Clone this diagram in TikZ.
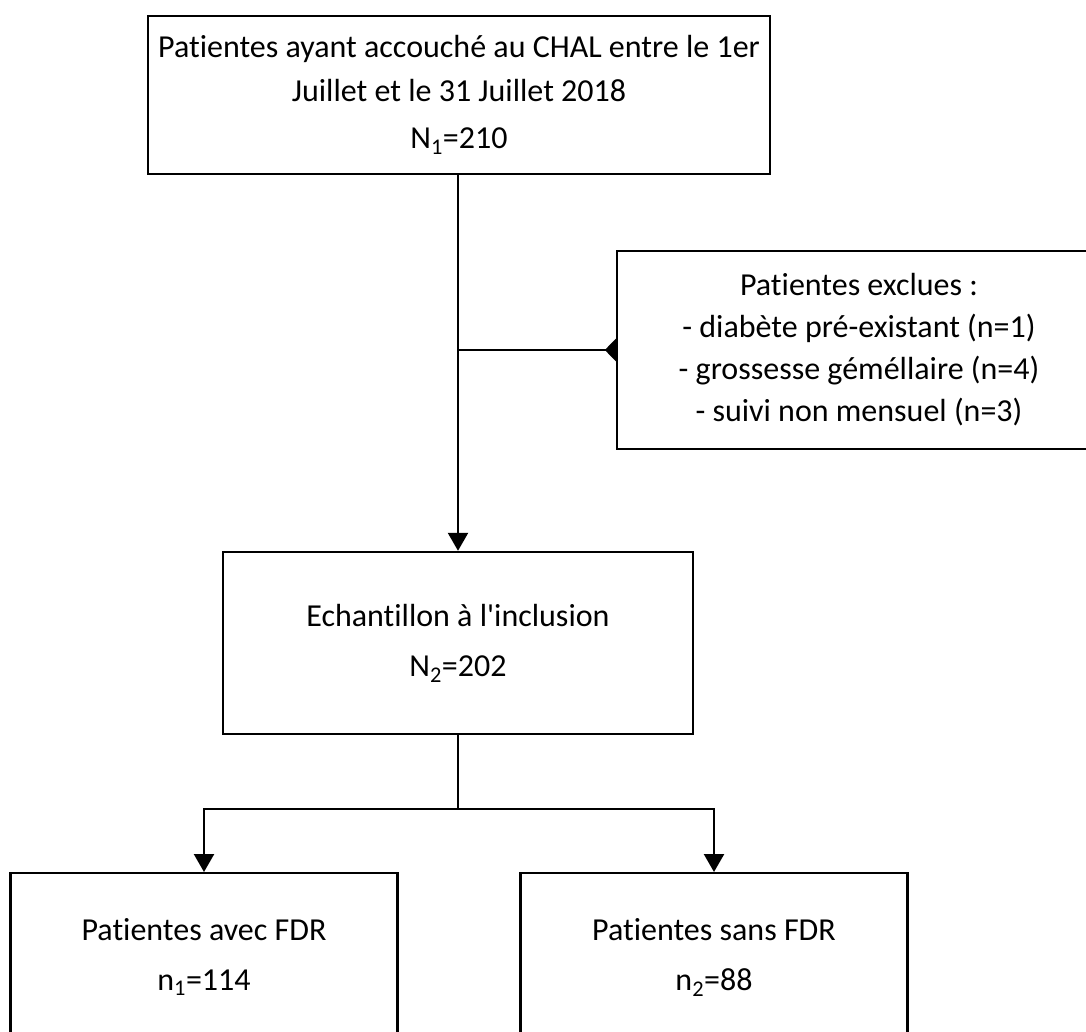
\documentclass[tikz,border=0pt]{standalone}
\usepackage{fontspec}
\setmainfont{Carlito}[Ligatures=CommonOff]
\usetikzlibrary{arrows.meta,positioning}

\tikzset{
  box/.style={draw, line width=2.4pt, align=center, inner sep=0pt},
  lbl/.style={align=center},
  link/.style={line width=2.4pt},
  arr/.style={link, -{Triangle[width=20pt,length=18pt]}},
  excl/.style={link, -{Triangle[reversed,width=22pt,length=11pt]}}
}
\newcommand{\idx}[1]{\textsubscript{#1}}

\begin{document}
\begin{tikzpicture}[x=1pt,y=1pt,font=\fontsize{32}{42}\selectfont]

\useasboundingbox (0,0) rectangle (1086,-1032);
\clip (0,0) rectangle (1086,-1032);

% main column
\node[box, minimum width=622pt, minimum height=158pt] (pop) at (459,-95)
  {Patientes ayant accouché au CHAL entre le 1er\\[2pt]Juillet et le 31 Juillet 2018\\[5pt]N\idx{1}=210};
\node[box, minimum width=470pt, minimum height=182pt] (incl) at (458,-643)
  {Echantillon à l\textquotesingle inclusion\\[8pt]N\idx{2}=202};

% excluded
\node[box, minimum width=484pt, minimum height=198pt] (out) at (859,-350)
  {Patientes exclues :\\- diabète pré-existant (n=1)\\- grossesse géméllaire (n=4)\\- suivi non mensuel (n=3)};

% two groups
\node[box, minimum width=387pt, minimum height=240pt, anchor=north] (avec) at (204,-872) {};
\node[box, minimum width=387pt, minimum height=240pt, anchor=north] (sans) at (714,-872) {};
\node[lbl] (avecT) at (204,-957) {Patientes avec FDR\\[8pt]n\idx{1}=114};
\node[lbl] (sansT) at (714,-957) {Patientes sans FDR\\[8pt]n\idx{2}=88};

\coordinate (split) at (458,-350);
\coordinate (fork) at (458,-809);

\draw[arr] (pop.south -| split) -- (incl.north);
\draw[excl] (split) -- (out.west);
\draw[link] (incl.south) -- (fork);
\draw[arr] (fork) -| (avec.north);
\draw[arr] (fork) -| (sans.north);

\end{tikzpicture}
\end{document}
